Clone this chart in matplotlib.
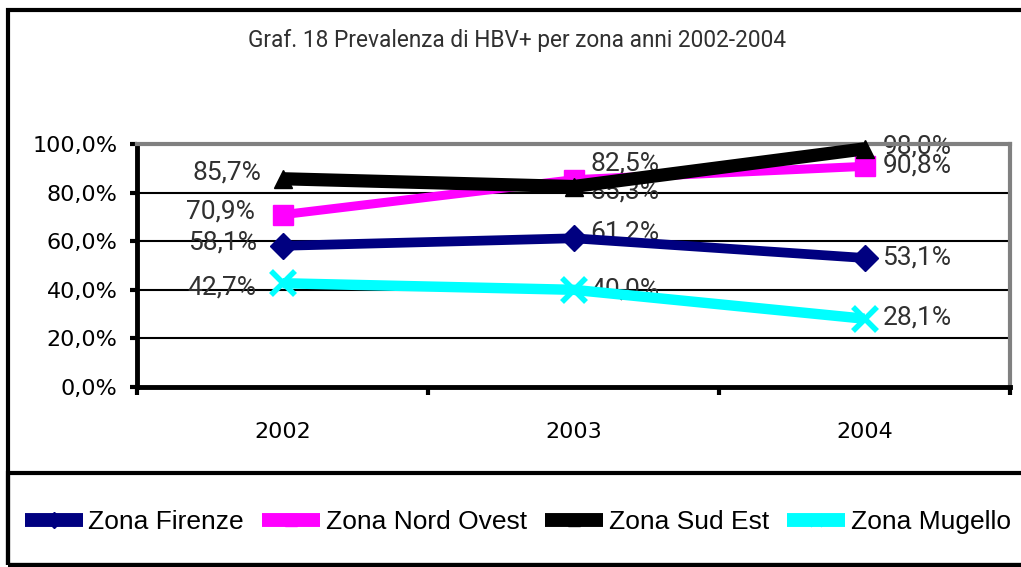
import matplotlib.pyplot as plt
import numpy as np
from matplotlib.lines import Line2D
from matplotlib.patches import Rectangle

years = ['2002', '2003', '2004']
firenze = [58.1, 61.2, 53.1]
nord_ovest = [70.9, 85.3, 90.8]
sud_est = [85.7, 82.5, 98.0]
mugello = [42.7, 40.0, 28.1]

names = ['Zona Firenze', 'Zona Nord Ovest', 'Zona Sud Est', 'Zona Mugello']
series = [firenze, nord_ovest, sud_est, mugello]
colors = ['#000080', '#FF00FF', '#000000', '#00FFFF']
markers = ['D', 's', '^', 'x']
msizes = [13, 15, 13, 17]
lwidths = [7, 6.5, 9.5, 7.5]

# label offsets in pixels (dx, dy), same order as series
offsets = [
    [(-25, 3), (17, 6), (18, 0)],
    [(-28, 3), (17, -12), (18, 1)],
    [(-21, 6), (17, 23), (18, 2)],
    [(-26, -4), (17, 0), (18, 1)],
]

W, H = 1021, 567
fig = plt.figure(figsize=(W / 100, H / 100), dpi=100)

def fx(px):
    return px / W

def fy(py):
    return 1 - py / H

# outer border and legend box
fig.patches.append(Rectangle((fx(8), fy(565)), fx(1040), fy(10) - fy(565),
                             transform=fig.transFigure, fill=False,
                             edgecolor='black', linewidth=3))
fig.patches.append(Rectangle((fx(8), fy(565)), fx(1040), fy(473) - fy(565),
                             transform=fig.transFigure, fill=False,
                             edgecolor='black', linewidth=3))

ax = fig.add_axes([fx(137), fy(387), fx(1010 - 137), fy(144) - fy(387)])
x = np.arange(len(years))

for i, vals in enumerate(series):
    ax.plot(x, vals, color=colors[i], lw=lwidths[i], marker=markers[i],
            ms=msizes[i], mew=4 if markers[i] == 'x' else 1,
            solid_capstyle='butt', zorder=3, clip_on=False)
    for j, v in enumerate(vals):
        dx, dy = offsets[i][j]
        ax.annotate(f'{v:.1f}%'.replace('.', ','), (j, v),
                    xytext=(dx * 0.72, dy * 0.72), textcoords='offset points',
                    ha='right' if dx < 0 else 'left', va='center',
                    fontsize=19, color='#303030', family='Roboto',
                    zorder=2.5)

ax.set_xlim(-0.5, 2.5)
ax.set_ylim(0, 100)
ax.set_yticks(np.arange(0, 101, 20))
ax.set_yticklabels([f'{t:.1f}%'.replace('.', ',') for t in np.arange(0, 101, 20)])
ax.set_xticks(x)
ax.set_xticklabels(years)
ax.set_xticks([-0.5, 0.5, 1.5, 2.5], minor=True)
ax.tick_params(axis='x', which='major', length=0, pad=25, labelsize=16)
ax.tick_params(axis='x', which='minor', length=6, width=3, direction='out')
ax.tick_params(axis='y', length=5, width=3, pad=9, labelsize=16)
for lab in ax.get_xticklabels() + ax.get_yticklabels():
    lab.set_family('DejaVu Sans')

ax.grid(axis='y', color='black', lw=1.5, zorder=1)
ax.set_axisbelow(True)
ax.spines['left'].set_linewidth(3.5)
ax.spines['bottom'].set_linewidth(3.5)
ax.spines['top'].set_color('#808080')
ax.spines['right'].set_color('#808080')
ax.spines['top'].set_linewidth(3)
ax.spines['right'].set_linewidth(3)

fig.text(fx(517), fy(40), 'Graf. 18 Prevalenza di HBV+ per zona anni 2002-2004',
         ha='center', va='center', fontsize=16.3, family='Roboto',
         color='#303030')

handles = [Line2D([], [], color=colors[i], lw=10, marker=markers[i], ms=8,
                  mew=2 if markers[i] == 'x' else 1, solid_capstyle='butt')
           for i in range(4)]
fig.legend(handles, names, loc='center left', bbox_to_anchor=(fx(25), fy(522)),
           ncol=4, frameon=False, borderpad=0, borderaxespad=0,
           handlelength=2.2, handletextpad=0.2, columnspacing=0.7,
           prop={'family': 'Liberation Sans', 'size': 19})

fig.savefig('out.png', dpi=100)
